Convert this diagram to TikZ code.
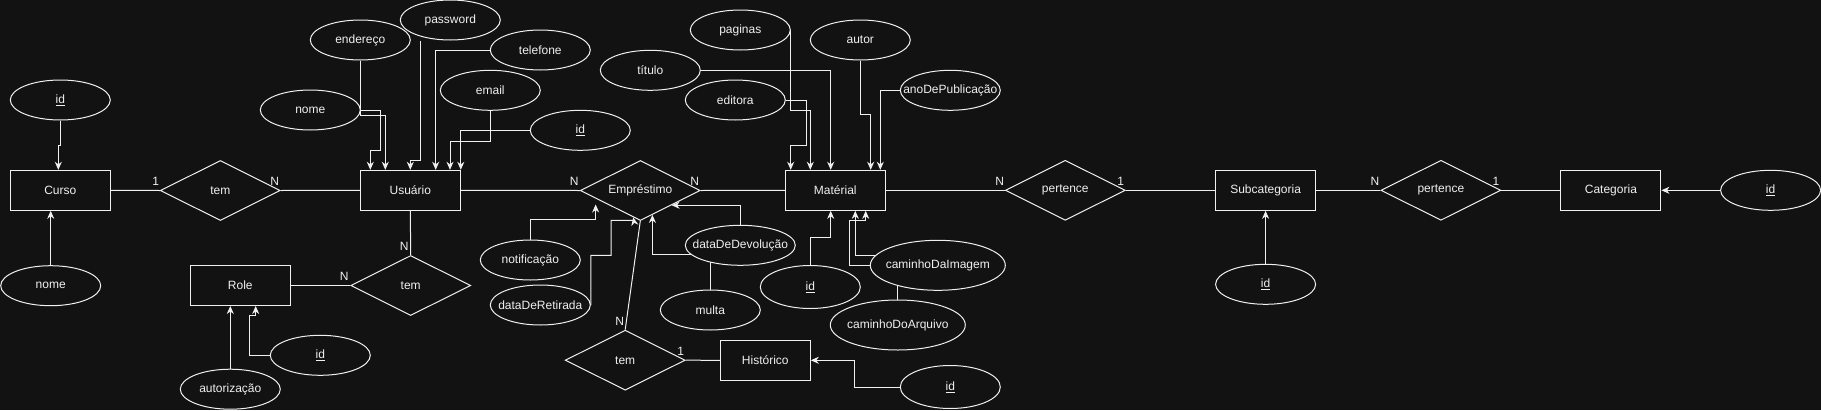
\documentclass[tikz,border=0pt]{standalone}
\usepackage{fontspec}
\setmainfont{Liberation Sans}
\usetikzlibrary{shapes.geometric,arrows.meta,calc}
\definecolor{bgc}{HTML}{121212}
\definecolor{fg}{HTML}{F0F0F0}
\newcommand\zw[1]{\makebox[0pt]{#1}}
\pgfdeclarelayer{bg}
\pgfdeclarelayer{edges}
\pgfsetlayers{bg,edges,main}
\tikzset{
  base/.style={draw=fg, line width=1pt, fill=bgc, text=fg, inner sep=0pt,
    font=\fontsize{12pt}{14pt}\selectfont},
  ent/.style={base, rectangle, minimum width=100pt, minimum height=40pt},
  rel/.style={base, diamond, shape aspect=2, minimum width=120pt, minimum height=60pt},
  attr/.style={base, ellipse, minimum width=100pt, minimum height=40pt},
  lbl/.style={text=fg, inner sep=0pt, font=\fontsize{12pt}{14pt}\selectfont},
  ln/.style={draw=fg, line width=1pt},
  arr/.style={ln, -{Stealth[length=8pt,width=7pt,inset=2.5pt]}},
}
\begin{document}
\begin{tikzpicture}[x=1pt,y=-1pt]
\begin{pgfonlayer}{bg}
\fill[bgc] (0,0) rectangle (1821,410);
\end{pgfonlayer}
\useasboundingbox (0,0) rectangle (1821,410);

% entities
\node[ent] (curso) at (60.3,190.3) {Curso};
\node[ent] (usu) at (410.3,190.3) {Usuário};
\node[ent] (role) at (240.3,285.5) {Role};
\node[ent] (mat) at (835.3,190.3) {Matérial};
\node[ent, minimum width=90pt] (hist) at (765.3,360.3) {Histórico};
\node[ent] (subcat) at (1265.6,190.3) {Subcategoria};
\node[ent] (cat) at (1610.9,190.3) {Categoria};

% relationships
\node[rel] (tem1) at (220.3,190.5) {tem};
\node[rel] (tem2) at (410.7,285.5) {tem};
\node[rel] (emp) at (640.3,190.5) {Empréstimo};
\node[rel] (tem3) at (625.2,360.2) {tem};
\node[rel] (pert1) at (1065.3,190.3) {pertence};
\node[rel] (pert2) at (1440.9,190.3) {pertence};

% attributes
\node[attr] (cursoid) at (60.3,100) {\zw{\underline{id}}};
\node[attr] (cursonome) at (50.7,285.7) {\zw{nome}};
\node[attr] (roleid) at (320.3,355.3) {\zw{\underline{id}}};
\node[attr] (autz) at (230.3,389.2) {\zw{autorização}};
\node[attr] (endereco) at (360.3,40) {\zw{endereço}};
\node[attr] (password) at (450.3,20) {\zw{password}};
\node[attr] (telefone) at (540.3,50) {\zw{telefone}};
\node[attr] (email) at (490.3,90.3) {\zw{email}};
\node[attr] (usuid) at (580.3,130.3) {\zw{\underline{id}}};
\node[attr] (nome) at (310.3,110) {\zw{nome}};
\node[attr] (notif) at (530.3,260) {\zw{notificação}};
\node[attr] (retirada) at (540.3,305) {\zw{dataDeRetirada}};
\node[attr] (multa) at (710.3,310) {\zw{multa}};
\node[attr, minimum width=110pt] (devol) at (740.3,245.3) {\zw{dataDeDevolução}};
\node[attr, minimum height=43pt] (histid) at (950.3,387) {\zw{\underline{id}}};
\node[attr] (paginas) at (740.3,30) {\zw{paginas}};
\node[attr] (autor) at (860.3,40) {\zw{autor}};
\node[attr] (titulo) at (650.3,70.3) {\zw{título}};
\node[attr] (editora) at (735.3,100) {\zw{editora}};
\node[attr] (ano) at (950.3,90.3) {\zw{anoDePublicação}};
\node[attr, minimum height=43pt] (matid) at (810.3,287) {\zw{\underline{id}}};
\node[attr, minimum width=135pt, minimum height=50pt] (img) at (937.8,265.3) {\zw{caminhoDaImagem}};
\node[attr, minimum width=135pt, minimum height=50pt] (arq) at (897.8,325) {\zw{caminhoDoArquivo}};
\node[attr] (subid) at (1265.6,284.3) {\zw{\underline{id}}};
\node[attr] (catid) at (1770.6,190.3) {\zw{\underline{id}}};

% cardinality labels
\node[lbl] (c1) at (155.7,181.7) {1};
\node[lbl] (c2) at (274.7,181.7) {N};
\node[lbl] (c3) at (404.3,246.7) {N};
\node[lbl] (c4) at (344.3,276.7) {N};
\node[lbl] (c5) at (574.3,181.7) {N};
\node[lbl] (c6) at (694.7,181.7) {N};
\node[lbl] (c7) at (619.7,321.7) {N};
\node[lbl] (c8) at (680.7,351.3) {1};
\node[lbl] (c9) at (999.8,181.7) {N};
\node[lbl] (c10) at (1120.6,181.7) {1};
\node[lbl] (c11) at (1374.9,181.7) {N};
\node[lbl] (c12) at (1496,181.7) {1};

\begin{pgfonlayer}{edges}
% relationship lines
\draw[ln] (curso.east) -- (tem1.west);
\draw[ln] (tem1.east) -- (usu.west);
\draw[ln] (usu.south) -- (tem2.north);
\draw[ln] (role.east) -- (tem2.west);
\draw[ln] (usu.east) -- (emp.west);
\draw[ln] (emp.east) -- (mat.west);
\draw[ln] (tem3.north) -- (emp.south);
\draw[ln] (tem3.east) -- (hist.west);
\draw[ln] (mat.east) -- (pert1.west);
\draw[ln] (pert1.east) -- (subcat.west);
\draw[ln] (subcat.east) -- (pert2.west);
\draw[ln] (pert2.east) -- (cat.west);

% Curso attributes
\draw[arr] (cursoid.south) -- ++(0,25) -| ([xshift=-2pt]curso.north);
\draw[arr] (cursonome.north) -- (cursonome.north |- curso.south);
% Role attributes
\draw[arr] (roleid.west) -- ++(-20,0) -- ++(0,-40.3) -| ([xshift=15.4pt]role.south);
\draw[arr] (autz.north) -- (autz.north |- role.south);
% Usuario attributes
\draw[arr] (nome.east) -- ++(20,0) -- ++(0,40.3) -| ([xshift=-40pt]usu.north);
\draw[arr] (endereco.south) -- ++(0,55) -| ([xshift=-25pt]usu.north);
\draw[arr] ([xshift=-30pt]password.south) -- ++(0,120.3) -| (usu.north);
\draw[arr] (telefone.west) -| ([xshift=25.4pt]usu.north);
\draw[arr] (email.south) -- ++(0,30.4) -| ([xshift=39.7pt]usu.north);
\draw[arr] (usuid.west) -| (usu.north east);
% Emprestimo attributes
\draw[arr] (notif.north) -- ++(0,-19.7) -| ($(emp.west)!0.262!(emp.south)+(0,6)$);
\draw[arr] (retirada.east) -- ++(0,-49.7) -- ++(20.4,0) -- ++(0,-35) -- ++(22.6,0) -- ($(emp.west)!0.883!(emp.south)$);
\draw[arr] (multa.north) -- ++(0,-34.7) -| ($(emp.south)!0.2!(emp.east)$);
\draw[arr] (devol.north) |- ($(emp.south)!0.517!(emp.east)$);
% Historico attribute
\draw[arr] (histid.west) -- ++(-45,0) |- (hist.east);
% Material attributes
\draw[arr] (editora.east) -- ++(20.4,0) -- ++(0,45.3) -| ([xshift=-44.6pt]mat.north);
\draw[arr] (paginas.east) -- ++(0,80) -| ([xshift=-25pt]mat.north);
\draw[arr] (titulo.east) -| ([xshift=-4.6pt]mat.north);
\draw[arr] (autor.south) -- ++(0,54.3) -| ([xshift=35.4pt]mat.north);
\draw[arr] (ano.west) -| ([xshift=45pt]mat.north);
\draw[arr] (matid.north) -- ++(0,-28) -| ([xshift=-4.6pt]mat.south);
\draw[arr] (img.west) -- ++(-20,0) -- ++(0,-44.6) -| ([xshift=30.4pt]mat.south);
\draw[arr] (arq.north) -- ++(0,-44.3) -| ([xshift=20pt]mat.south);
% Subcategoria / Categoria attributes
\draw[arr] (subid.north) -- (subcat.south);
\draw[arr] (catid.west) -- (cat.east);
\end{pgfonlayer}
\end{tikzpicture}
\end{document}
